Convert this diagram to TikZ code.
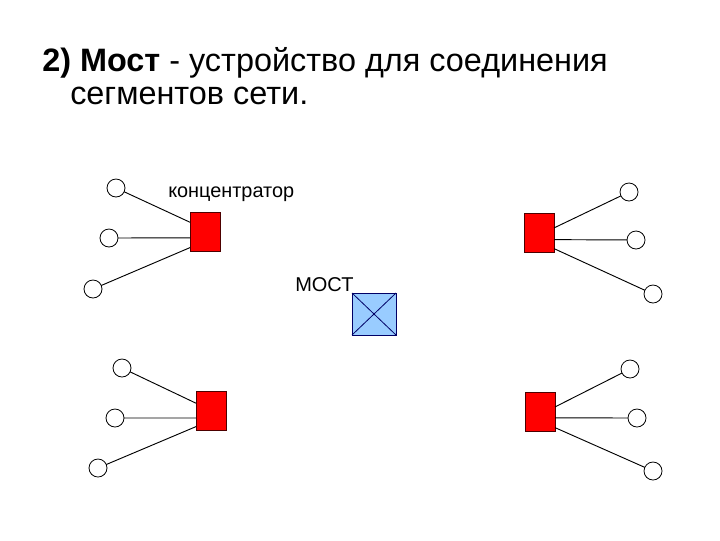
\documentclass[tikz,border=0pt]{standalone}
\usepackage{fontspec}
\setmainfont{Liberation Sans}
\usetikzlibrary{calc}
\definecolor{hubred}{RGB}{255,0,0}
\definecolor{bridgeblue}{RGB}{153,204,255}
\definecolor{bridgeedge}{RGB}{0,0,102}
\tikzset{
  hubbox/.style={draw=black!70!red, line width=0.5pt, fill=hubred, minimum width=30*0.75pt, minimum height=39*0.75pt, inner sep=0pt, outer sep=0pt},
  host/.style={circle, draw=black, line width=0.6pt, fill=white, minimum size=18*0.75pt, inner sep=0pt, outer sep=0pt},
  link/.style={draw=black, line width=0.7pt},
  bridgebox/.style={draw=bridgeedge, line width=0.6pt, fill=bridgeblue, minimum width=44*0.75pt, minimum height=42*0.75pt, inner sep=0pt, outer sep=0pt},
  title/.style={font=\fontsize{24.3pt}{28pt}\selectfont, inner sep=0pt, anchor=base west},
  lbl/.style={inner sep=0pt, anchor=base west}
}
\begin{document}
\begin{tikzpicture}[x=0.75pt, y=-0.75pt]
\useasboundingbox (0,0) rectangle (720,540);
% title
\node[title] (t1) at (42,71) {\textbf{2) Мост} - устройство для соединения};
\node[title] (t2) at (70,104) {сегментов сети.};
% labels
\node[lbl, font=\fontsize{14.9pt}{17pt}\selectfont] (lc) at (168,197) {концентратор};
\node[lbl, font=\fontsize{15pt}{18pt}\selectfont] (lm) at (295,291) {МОСТ};
% bridge
\node[bridgebox] (br) at (374,314) {};
\draw[bridgeedge, line width=0.6pt] (br.north west) -- (br.south east) (br.north east) -- (br.south west);
% hub top-left
\node[hubbox] (h1) at (205,232) {};
\node[host] (a1) at (116,188) {};
\node[host] (a2) at (109,238) {};
\node[host] (a3) at (93,289) {};
\draw[link] (a1) -- ($(h1.north west)!0.25!(h1.south west)$);
\draw[link] (a2) -- ($(h1.north west)!0.65!(h1.south west)$);
\draw[link] (a3) -- ($(h1.north west)!0.9!(h1.south west)$);
% hub bottom-left
\node[hubbox] (h2) at (211,411) {};
\node[host] (b1) at (122,368) {};
\node[host] (b2) at (115,418) {};
\node[host] (b3) at (98,468) {};
\draw[link] (b1) -- ($(h2.north west)!0.3!(h2.south west)$);
\draw[link] (b2) -- ($(h2.north west)!0.68!(h2.south west)$);
\draw[link] (b3) -- ($(h2.north west)!0.9!(h2.south west)$);
% hub top-right
\node[hubbox] (h3) at (539,233) {};
\node[host] (c1) at (629,192) {};
\node[host] (c2) at (636,240) {};
\node[host] (c3) at (653,294) {};
\draw[link] (c1) -- ($(h3.north east)!0.37!(h3.south east)$);
\draw[link] (c2) -- ($(h3.north east)!0.67!(h3.south east)$);
\draw[link] (c3) -- ($(h3.north east)!0.9!(h3.south east)$);
% hub bottom-right
\node[hubbox] (h4) at (540,412) {};
\node[host] (d1) at (630,369) {};
\node[host] (d2) at (637,418) {};
\node[host] (d3) at (653,471) {};
\draw[link] (d1) -- ($(h4.north east)!0.37!(h4.south east)$);
\draw[link] (d2) -- ($(h4.north east)!0.65!(h4.south east)$);
\draw[link] (d3) -- ($(h4.north east)!0.9!(h4.south east)$);
\end{tikzpicture}
\end{document}
